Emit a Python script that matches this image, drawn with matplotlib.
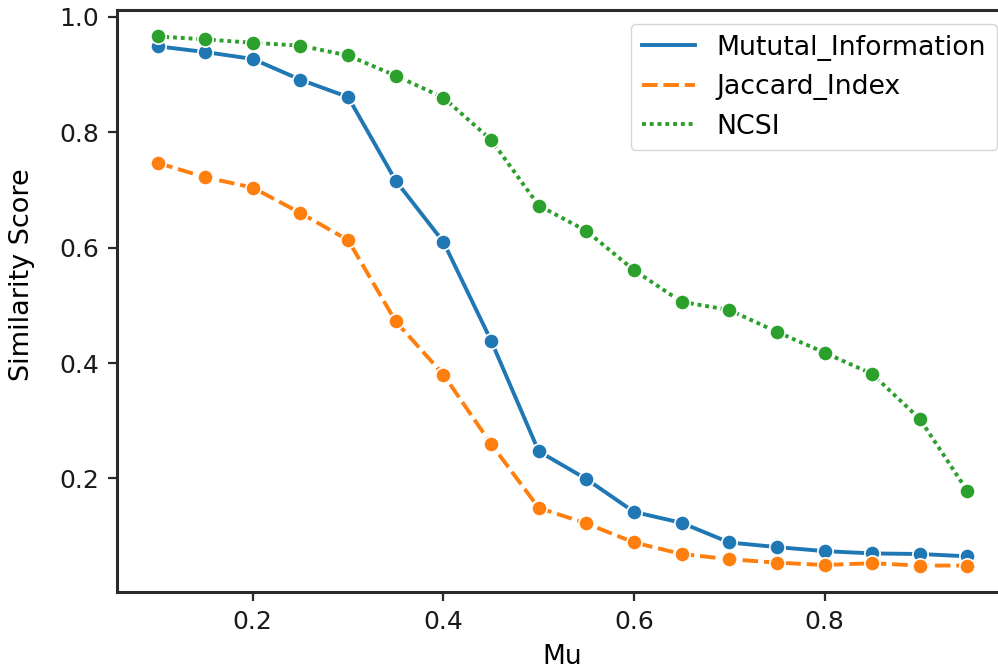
import matplotlib
matplotlib.use("Agg")
import matplotlib.pyplot as plt

mu = [0.10, 0.15, 0.20, 0.25, 0.30, 0.35, 0.40, 0.45, 0.50, 0.55,
      0.60, 0.65, 0.70, 0.75, 0.80, 0.85, 0.90, 0.95]
mutual_information = [0.949, 0.939, 0.927, 0.891, 0.861, 0.716, 0.610, 0.439, 0.247, 0.199,
                      0.142, 0.123, 0.089, 0.081, 0.074, 0.070, 0.069, 0.065]
jaccard_index = [0.747, 0.722, 0.704, 0.660, 0.613, 0.472, 0.380, 0.260, 0.149, 0.122,
                 0.089, 0.069, 0.060, 0.054, 0.050, 0.053, 0.049, 0.049]
ncsi = [0.966, 0.961, 0.955, 0.950, 0.933, 0.898, 0.860, 0.787, 0.673, 0.629,
        0.561, 0.506, 0.492, 0.454, 0.418, 0.381, 0.303, 0.178]

series = [("Mututal_Information", mutual_information, "#1f77b4", (None, None)),
          ("Jaccard_Index", jaccard_index, "#ff7f0e", (4, 1.5)),
          ("NCSI", ncsi, "#2ca02c", (1, 1))]

plt.rcParams.update({
    "font.family": ["DejaVu Sans"],
    "font.size": 18,
    "axes.linewidth": 2.2,
    "axes.edgecolor": "#2a2a2a",
    "xtick.color": "#2a2a2a",
    "ytick.color": "#2a2a2a",
    "xtick.labelcolor": "#1a1a1a",
    "ytick.labelcolor": "#1a1a1a",
    "xtick.major.width": 1.6,
    "ytick.major.width": 1.6,
    "xtick.major.size": 6.5,
    "ytick.major.size": 6.5,
    "xtick.major.pad": 6.5,
    "ytick.major.pad": 6.5,
})

fig = plt.figure(figsize=(9.98, 6.70), dpi=100)
ax = fig.add_axes([117 / 998, 1 - 592 / 670, (1008 - 117) / 998, (592 - 10) / 670])

lw = 2.8
for name, vals, color, dash in series:
    if dash[0] is None:
        ax.plot(mu, vals, color=color, lw=lw, label=name)
    else:
        ax.plot(mu, vals, color=color, lw=lw, dashes=dash, label=name)
    ax.plot(mu, vals, linestyle="none", marker="o", markersize=11,
            markerfacecolor=color, markeredgecolor="white", markeredgewidth=1.2)

ax.set_xticks([0.2, 0.4, 0.6, 0.8])
ax.set_yticks([0.2, 0.4, 0.6, 0.8, 1.0])
ax.set_xlabel("Mu", fontsize=19, labelpad=7)
ax.set_ylabel("Similarity Score", fontsize=19.5)
ax.yaxis.set_label_coords(-0.092, 0.546)

ax.legend(loc="upper right", bbox_to_anchor=(997 / 998, 1 - 24 / 670),
          bbox_transform=fig.transFigure, borderaxespad=0, handlelength=2.0,
          fontsize=19.3, framealpha=0.8)

fig.savefig("out.png", dpi=100)
